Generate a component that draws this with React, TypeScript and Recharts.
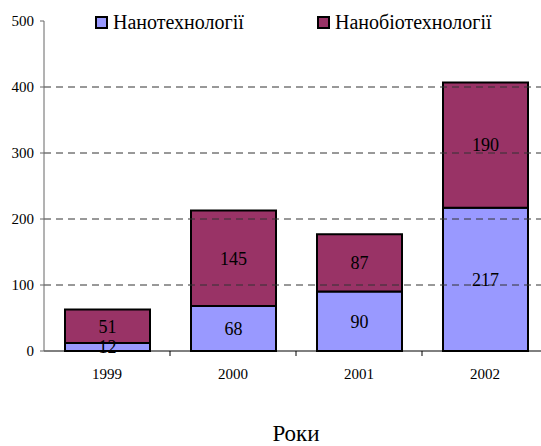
import React from "react";
import {
  BarChart,
  Bar,
  XAxis,
  YAxis,
  ReferenceLine,
  LabelList,
} from "recharts";

const years = ["1999", "2000", "2001", "2002"];
const nano = [12, 68, 90, 217];
const nanoBio = [51, 145, 87, 190];
const seriesNames = ["Нанотехнології", "Нанобіотехнології"];
const yTicks = [0, 100, 200, 300, 400, 500];
const gridValues = [100, 200, 300, 400];

const colors = ["#9999FF", "#993366"];
const font = "'Liberation Serif', serif";

const W = 560;
const H = 446;
const margin = { top: 21, right: 12, left: 0, bottom: 0 };
const yAxisWidth = 44;
const xAxisHeight = 95;
const plotWidth = W - margin.left - margin.right - yAxisWidth;
const band = plotWidth / years.length;
const axisY = H - margin.bottom - xAxisHeight;

const data = years.map((year, i) => ({ year, nano: nano[i], nanoBio: nanoBio[i] }));

function YearTick(props: any) {
  const { x, payload, index } = props;
  return (
    <g>
      <text
        x={x}
        y={axisY + 28}
        textAnchor="middle"
        fontSize={15}
        fontFamily={font}
        fill="#000"
      >
        {payload.value}
      </text>
      {index < years.length - 1 && (
        <line x1={x + band / 2} x2={x + band / 2} y1={axisY} y2={axisY + 5} stroke="#000" />
      )}
    </g>
  );
}

function LegendBox() {
  const items = [
    { name: seriesNames[0], color: colors[0], left: 95 },
    { name: seriesNames[1], color: colors[1], left: 317 },
  ];
  return (
    <>
      {items.map((it) => (
        <div
          key={it.name}
          style={{
            position: "absolute",
            left: it.left,
            top: 10,
            display: "flex",
            alignItems: "center",
            fontFamily: font,
            fontSize: 20,
            lineHeight: "24px",
            color: "#000",
            whiteSpace: "nowrap",
          }}
        >
          <span
            style={{
              display: "inline-block",
              width: 9,
              height: 9,
              background: it.color,
              border: "2px solid #000",
              marginRight: 5,
            }}
          />
          {it.name}
        </div>
      ))}
    </>
  );
}

export default function App() {
  return (
    <div style={{ position: "absolute", left: 0, top: 0, width: 541, height: 446, overflow: "hidden", background: "#fff" }}>
      <BarChart width={W} height={H} data={data} margin={margin} barSize={85}>
        {gridValues.map((v) => (
          <ReferenceLine key={v} y={v} stroke="#333" strokeDasharray="7 5" />
        ))}
        <XAxis
          dataKey="year"
          height={xAxisHeight}
          tickLine={false}
          axisLine={{ stroke: "#000" }}
          tick={<YearTick />}
          interval={0}
          label={{
            value: "Роки",
            position: "insideBottom",
            offset: 5,
            fontSize: 23,
            fontFamily: font,
            fill: "#000",
          }}
        />
        <YAxis
          width={yAxisWidth}
          domain={[0, 500]}
          ticks={yTicks}
          interval={0}
          tickSize={4}
          tickMargin={6}
          axisLine={{ stroke: "#666" }}
          tickLine={{ stroke: "#666" }}
          tick={{ fontSize: 15, fontFamily: font, fill: "#000" }}
        />
        <Bar dataKey="nano" stackId="a" fill={colors[0]} stroke="#000" strokeWidth={2} isAnimationActive={false}>
          <LabelList dataKey="nano" position="center" fontSize={18} fontFamily={font} fill="#000" />
        </Bar>
        <Bar dataKey="nanoBio" stackId="a" fill={colors[1]} stroke="#000" strokeWidth={2} isAnimationActive={false}>
          <LabelList dataKey="nanoBio" position="center" fontSize={18} fontFamily={font} fill="#000" />
        </Bar>
      </BarChart>
      <LegendBox />
    </div>
  );
}
